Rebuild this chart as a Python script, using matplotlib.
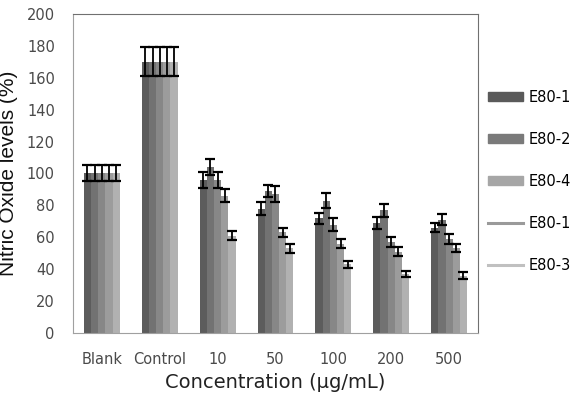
import matplotlib.pyplot as plt
import numpy as np
from matplotlib.patches import Patch
from matplotlib.lines import Line2D

# 資料
categories = ['Blank', 'Control', '10', '50', '100', '200', '500']
e80_1 = [100, 170, 96, 78, 72, 69, 66]
e80_2 = [100, 170, 104, 89, 83, 77, 71]
e80_3 = [100, 170, 96, 87, 68, 57, 59]
e80_4 = [100, 170, 86, 63, 56, 51, 53]
e80_5 = [100, 170, 61, 53, 43, 37, 36]
err_1 = [5, 9, 5, 4, 3.5, 3.5, 3]
err_2 = [5, 9, 5, 4, 4.5, 4, 3.5]
err_3 = [5, 9, 5, 5, 4, 3, 3]
err_4 = [5, 9, 4, 3, 3, 3, 2.5]
err_5 = [5, 9, 3, 3, 2, 2, 2]
legend_labels = ['E80-1', 'E80-2', 'E80-4', 'E80-1', 'E80-3']

series = [e80_1, e80_2, e80_3, e80_4, e80_5]
errors = [err_1, err_2, err_3, err_4, err_5]
colors = ['#5c5c5c', '#727272', '#878787', '#9c9c9c', '#b1b1b1']

fig = plt.figure(figsize=(5.83, 3.96), dpi=100)
ax = fig.add_axes([0.125, 0.159, 0.695, 0.806])

x = np.arange(len(categories))
w = 0.124
for i, (vals, errs) in enumerate(zip(series, errors)):
    pos = x + (i - 2) * w
    ax.bar(pos, vals, width=w, color=colors[i], edgecolor='none', zorder=2)
    ax.errorbar(pos, vals, yerr=errs, fmt='none', ecolor='black',
                elinewidth=1.3, capsize=3.5, capthick=1.6, zorder=3)

ax.set_xlim(-0.5, 6.5)
ax.set_ylim(0, 200)
ax.set_yticks(range(0, 201, 20))
ax.set_xticks(x)
ax.set_xticklabels(categories)
ax.tick_params(length=0, labelsize=10.5, colors='#4a4a4a')
ax.tick_params(axis='x', pad=14)
ax.tick_params(axis='y', pad=13)
for side in ['left', 'bottom']:
    ax.spines[side].set_color('#a0a0a0')
for side in ['top', 'right']:
    ax.spines[side].set_color('#707070')

ax.set_xlabel('Concentration (μg/mL)', fontsize=14, labelpad=4, color='#222222')
ax.set_ylabel('Nitric Oxide levels (%)', fontsize=15,
              family='Liberation Sans', labelpad=6, color='#111111')

# 圖例：三個色塊 + 兩條線
handles = [
    Patch(color='#5a5a5a'),
    Patch(color='#7a7a7a'),
    Patch(color='#a6a6a6'),
    Line2D([], [], color='#9a9a9a', lw=2.2),
    Line2D([], [], color='#c0c0c0', lw=2.2),
]
ax.legend(handles, legend_labels, loc='center left', bbox_to_anchor=(1.0, 0.475),
          frameon=False, fontsize=10.5, handlelength=2.4, handleheight=0.55,
          labelspacing=1.85, handletextpad=0.35, borderaxespad=0.3)

plt.savefig('out.png', dpi=100)
